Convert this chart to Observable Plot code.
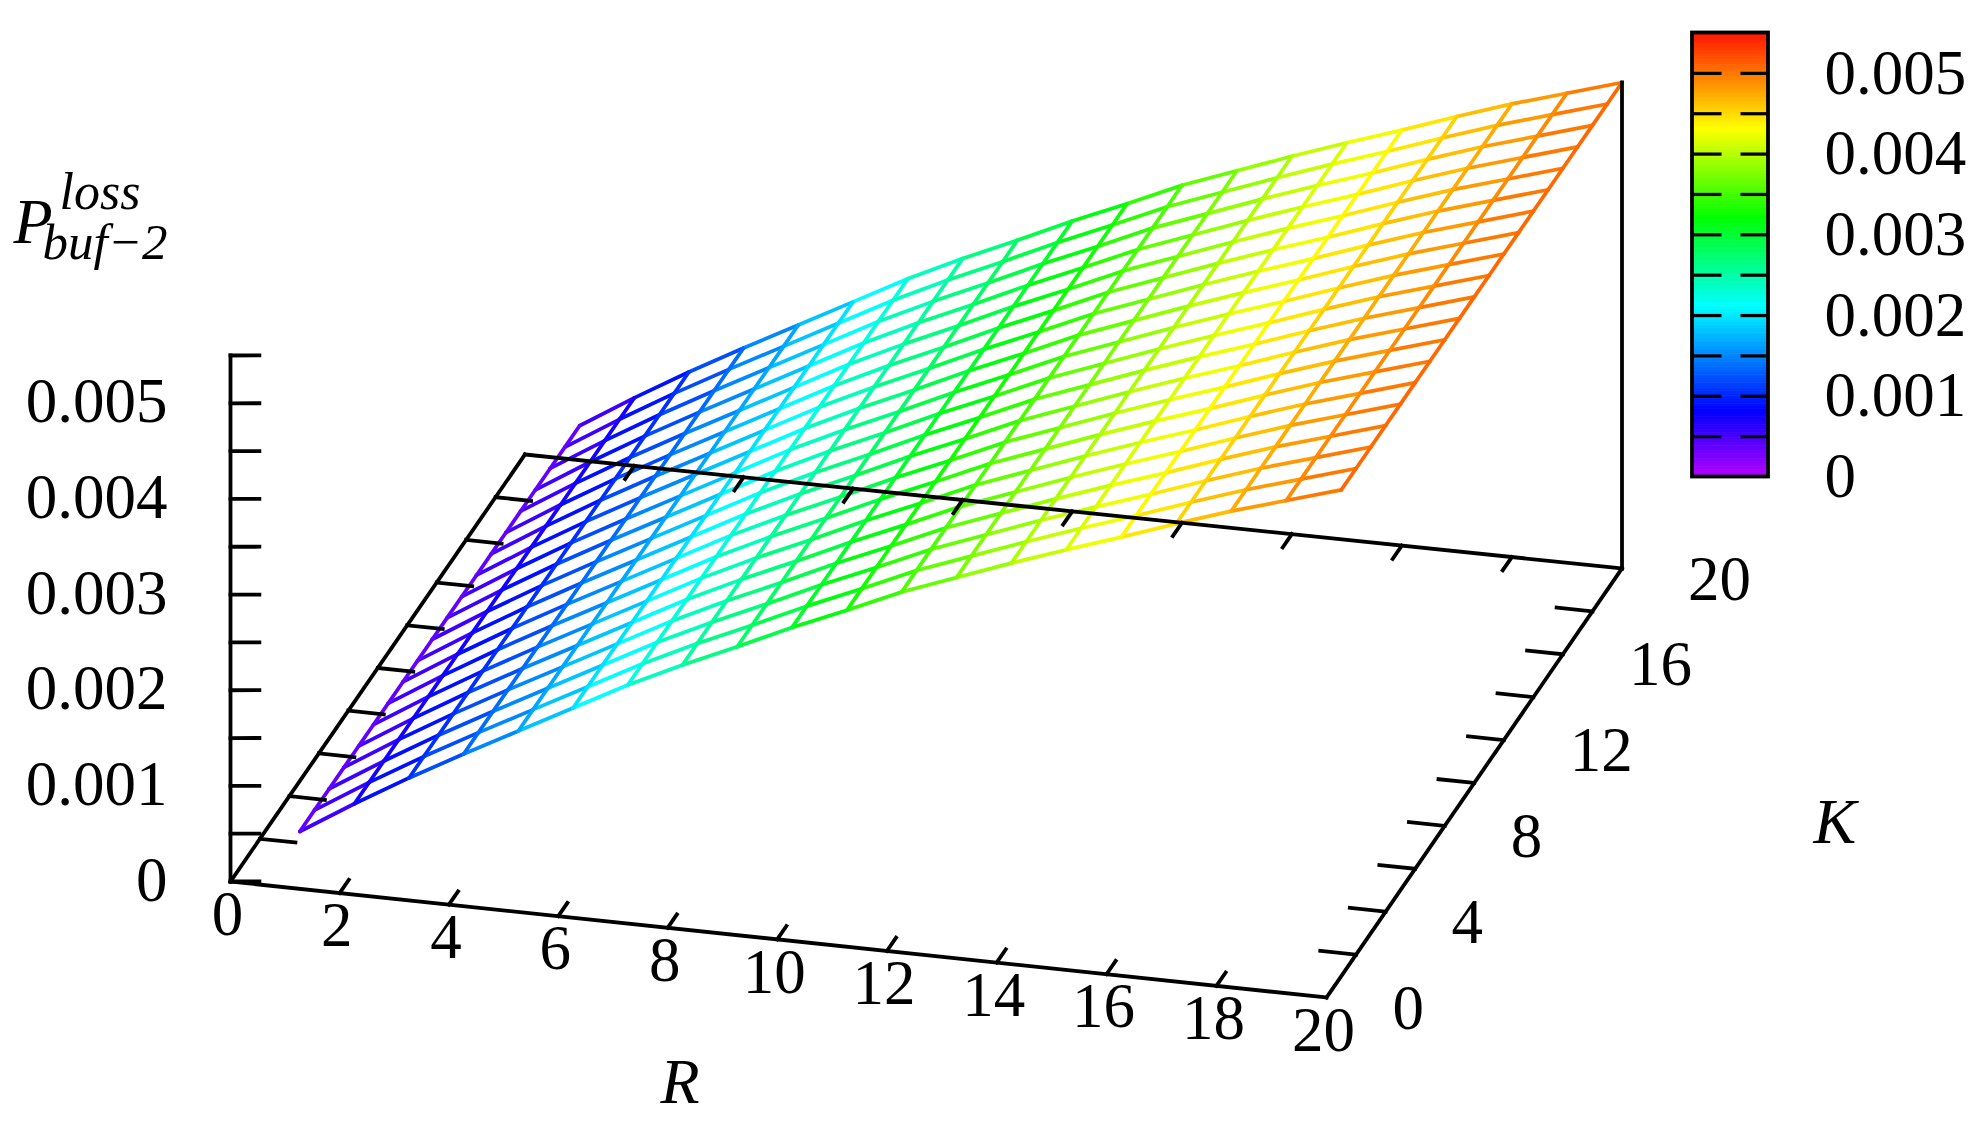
<!DOCTYPE html>
<html>
<head>
<meta charset="utf-8">
<script src="https://cdn.jsdelivr.net/npm/d3@7"></script>
<script src="https://cdn.jsdelivr.net/npm/@observablehq/plot@0.6"></script>
<style>html,body{margin:0;padding:0;background:#fff}svg{display:block}</style>
</head>
<body>
<div id="chart"></div>
<script>
// ---- data ----
const gridR = [1,2,3,4,5,6,7,8,9,10,11,12,13,14,15,16,17,18,19,20];
const gridK = [1,2,3,4,5,6,7,8,9,10,11,12,13,14,15,16,17,18,19,20];
const lossByR = [0.00036,0.00071,0.00104,0.00135,0.00165,0.00195,0.00225,0.00252,0.00277,0.00303,
                 0.00327,0.00352,0.00373,0.00394,0.00414,0.00433,0.00453,0.00472,0.00489,0.00506];
const rTicks = [2,4,6,8,10,12,14,16,18];
const kTicks = [2,4,6,8,10,12,14,16,18];
const zTicks = [0,0.0005,0.001,0.0015,0.002,0.0025,0.003,0.0035,0.004,0.0045,0.005,0.0055];
const rLabels = [0,2,4,6,8,10,12,14,16,18,20];
const kLabels = [0,4,8,12,16,20];
const zLabels = ["0","0.001","0.002","0.003","0.004","0.005"];
const legendDashes = [0.0005,0.001,0.0015,0.002,0.0025,0.003,0.0035,0.004,0.0045,0.005];
const colorStops = [0,0.0008,0.0021,0.0032,0.0043,0.00558];
const colorRange = ["#b400ff","#0000ff","#00ffff","#00ff00","#ffff00","#ff0000"];

// ---- camera: the box corners of the view, on the screen ----
const [x0,y0] = [230,881], [x1,y1] = [1326,997], [x2,y2] = [1621.5,568], [x3,y3] = [524.5,454];
const zPixels = 526 / 0.0055;
const sx = x0-x1+x2-x3, sy = y0-y1+y2-y3, dx1 = x1-x2, dx2 = x3-x2, dy1 = y1-y2, dy2 = y3-y2;
const det = dx1*dy2 - dx2*dy1;
const g = (sx*dy2 - dx2*sy)/det, h = (dx1*sy - sx*dy1)/det;
function project(R, K, z = 0) {
  const u = R/20, v = K/20, w = 1 + g*u + h*v;
  return [
    ((x1-x0+g*x1)*u + (x3-x0+h*x3)*v + x0) / w,
    ((y1-y0+g*y1)*u + (y3-y0+h*y3)*v + y0 - zPixels*z) / w
  ];
}
const loss = R => lossByR[gridR.indexOf(R)];

function seg(a, b, v) {
  const [ax,ay] = project(...a), [bx,by] = project(...b);
  return {x1:ax, y1:ay, x2:bx, y2:by, v};
}

// ---- surface wireframe ----
const wire = [];
for (const K of gridK) for (let i = 0; i < gridR.length-1; i++) {
  const R = gridR[i], S = gridR[i+1];
  wire.push(seg([R,K,loss(R)],[S,K,loss(S)],(loss(R)+loss(S))/2));
}
for (const R of gridR) for (let j = 0; j < gridK.length-1; j++) {
  wire.push(seg([R,gridK[j],loss(R)],[R,gridK[j+1],loss(R)],loss(R)));
}

// ---- axes ----
const tickLen = 0.62;
const axes = [
  seg([0,0],[20,0]), seg([0,0],[0,20]), seg([0,20],[20,20]), seg([20,0],[20,20]),
  seg([0,0,0],[0,0,0.0055]), seg([20,20,0],[20,20,loss(20)]),
  ...rTicks.map(R => seg([R,0],[R,tickLen])),
  ...rTicks.map(R => seg([R,20],[R,20-tickLen])),
  ...kTicks.map(K => seg([0,K],[tickLen+0.03,K])),
  ...kTicks.map(K => seg([20,K],[20-tickLen-0.03,K])),
  ...zTicks.map(z => seg([0,0,z],[0.493,0.134,z]))
];

// ---- colour bar ----
const legendY = d3.scaleLinear([0,0.0055],[476.5,32.5]);
const barSteps = d3.range(0,0.0055,0.00002);
const barX = [1692,1768], dashL = [1692,1721], dashR = [1740,1768];

const chart = Plot.plot({
  width:1984, height:1146, margin:0,
  x:{domain:[0,1984],range:[0,1984],axis:null},
  y:{domain:[0,1146],range:[0,1146],axis:null},
  color:{type:"linear",domain:colorStops,range:colorRange,interpolate:"rgb",legend:false},
  style:{fontFamily:"Liberation Serif",background:"#fff"},
  marks:[
    Plot.link(wire,{x1:"x1",y1:"y1",x2:"x2",y2:"y2",stroke:"v",strokeWidth:3.7,strokeLinecap:"round"}),
    Plot.link(axes,{x1:"x1",y1:"y1",x2:"x2",y2:"y2",stroke:"#000",strokeWidth:3.8,strokeLinecap:"square"}),

    Plot.text(zLabels,{x:d=>project(0,0,+d)[0],y:d=>project(0,0,+d)[1],text:d=>d,textAnchor:"end",lineAnchor:"middle",dx:-63,dy:-1,fontSize:63,fill:"#000"}),
    Plot.text(rLabels,{x:d=>project(d,0)[0],y:d=>project(d,0)[1],text:d=>String(d),textAnchor:"middle",lineAnchor:"middle",dx:-3,dy:33,fontSize:63,fill:"#000"}),
    Plot.text(kLabels,{x:d=>project(20,d)[0],y:d=>project(20,d)[1],text:d=>String(d),textAnchor:"start",lineAnchor:"middle",dx:66,dy:11,fontSize:63,fill:"#000"}),

    Plot.rect(barSteps,{x1:()=>barX[0],x2:()=>barX[1],y1:d=>legendY(d),y2:d=>legendY(d+0.00002)-0.6,fill:d=>d}),
    Plot.link(legendDashes,{x1:()=>dashL[0],x2:()=>dashL[1],y1:d=>legendY(d),y2:d=>legendY(d),stroke:"#000",strokeWidth:3.2}),
    Plot.link(legendDashes,{x1:()=>dashR[0],x2:()=>dashR[1],y1:d=>legendY(d),y2:d=>legendY(d),stroke:"#000",strokeWidth:3.2}),
    Plot.rect([0],{x1:()=>barX[0],x2:()=>barX[1],y1:()=>legendY(0),y2:()=>legendY(0.0055),fill:"none",stroke:"#000",strokeWidth:3.8}),
    Plot.text(zLabels,{x:()=>barX[1],y:d=>legendY(+d),text:d=>d,textAnchor:"start",lineAnchor:"middle",dx:56,fontSize:63,fill:"#000"}),

    Plot.text(["R"],{frameAnchor:"top-left",textAnchor:"start",lineAnchor:"bottom",dx:660,dy:1102,fontSize:64,fontStyle:"italic",fill:"#000"}),
    Plot.text(["K"],{frameAnchor:"top-left",textAnchor:"start",lineAnchor:"bottom",dx:1813,dy:842,fontSize:64,fontStyle:"italic",fill:"#000"}),
    Plot.text(["P"],{frameAnchor:"top-left",textAnchor:"start",lineAnchor:"bottom",dx:13,dy:242,fontSize:64,fontStyle:"italic",fill:"#000"}),
    Plot.text(["loss"],{frameAnchor:"top-left",textAnchor:"start",lineAnchor:"bottom",dx:59,dy:208,fontSize:52,fontStyle:"italic",fill:"#000"}),
    Plot.text(["buf\u22122"],{frameAnchor:"top-left",textAnchor:"start",lineAnchor:"bottom",dx:42,dy:258,fontSize:51,fontStyle:"italic",fill:"#000"})
  ]
});
document.getElementById("chart").appendChild(chart);
</script>
</body>
</html>
